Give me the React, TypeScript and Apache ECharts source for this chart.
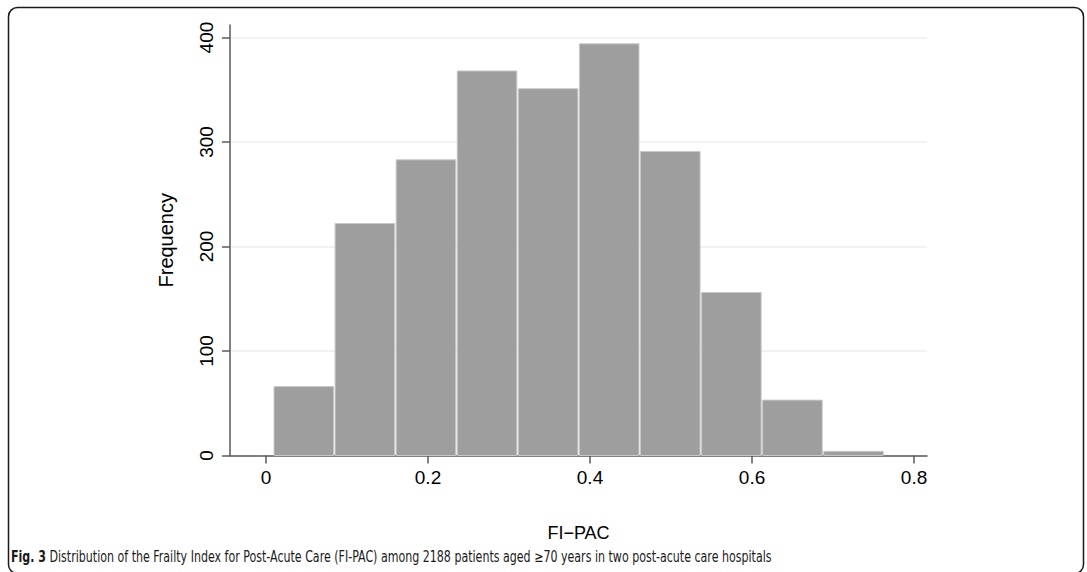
import React, { useEffect, useRef } from "react";
import * as echarts from "echarts";

// Histogram of FI-PAC scores: bin edges and counts per bin
const binEdges = [0.009, 0.0844, 0.1598, 0.2352, 0.3106, 0.386, 0.4614, 0.5368, 0.6122, 0.6876, 0.763];
const frequencies = [66, 222, 283, 368, 351, 394, 291, 156, 53, 4];
const xTicks = [0, 0.2, 0.4, 0.6, 0.8];
const yTicks = [0, 100, 200, 300, 400];
const xTitle = "FI\u2212PAC";
const yTitle = "Frequency";
const captionLead = "Fig. 3";
const captionBody =
  " Distribution of the Frailty Index for Post-Acute Care (FI-PAC) among 2188 patients aged \u226570 years in two post-acute care hospitals";

const W = 1087;
const H = 572;

export default function App() {
  const ref = useRef<HTMLDivElement>(null);

  useEffect(() => {
    if (!ref.current) return;
    const chart = echarts.init(ref.current, null, { renderer: "svg" });
    const bins = frequencies.map((f, i) => [binEdges[i], binEdges[i + 1], f]);
    const axisColor = "#5a5a5a";
    const font = "'Liberation Sans', Arial, Helvetica, sans-serif";
    const captionFont = "'DejaVu Sans Condensed', 'Liberation Sans Narrow', sans-serif";

    chart.setOption({
      animation: false,
      backgroundColor: "#ffffff",
      grid: { left: 230, right: 160, top: 25, bottom: 116.5, containLabel: false },
      xAxis: {
        type: "value",
        min: -0.0444,
        max: 0.816,
        name: xTitle,
        nameLocation: "middle",
        nameGap: 68,
        nameTextStyle: { fontFamily: font, fontSize: 18, color: "#000" },
        axisLine: { show: true, onZero: false, lineStyle: { color: axisColor, width: 1.5 } },
        axisTick: {
          show: true,
          inside: false,
          length: 8,
          customValues: xTicks,
          lineStyle: { color: axisColor, width: 1.5 },
        },
        axisLabel: {
          customValues: xTicks,
          margin: 12,
          fontFamily: font,
          fontSize: 19,
          color: "#000",
          formatter: (v: number) => String(+v.toFixed(1)),
        },
        splitLine: { show: false },
      },
      yAxis: {
        type: "value",
        min: 0,
        max: 412,
        name: yTitle,
        nameLocation: "middle",
        nameGap: 54,
        nameRotate: 90,
        nameTextStyle: { fontFamily: font, fontSize: 20, color: "#000" },
        axisLine: { show: true, onZero: false, lineStyle: { color: axisColor, width: 1.5 } },
        axisTick: {
          show: true,
          inside: false,
          length: 8,
          customValues: yTicks,
          lineStyle: { color: axisColor, width: 1.5 },
        },
        axisLabel: {
          customValues: yTicks,
          rotate: 90,
          margin: 14,
          fontFamily: font,
          fontSize: 19,
          color: "#000",
        },
        splitLine: { show: true, lineStyle: { color: "#eeeeee", width: 1.5 } },
      },
      series: [
        {
          type: "custom",
          data: bins,
          encode: { x: [0, 1], y: 2 },
          renderItem: (params: any, api: any) => {
            const p0 = api.coord([api.value(0), 0]);
            const p1 = api.coord([api.value(1), api.value(2)]);
            return {
              type: "rect",
              shape: {
                x: p0[0] + 0.75,
                y: p1[1],
                width: p1[0] - p0[0] - 1.5,
                height: p0[1] - p1[1],
              },
              style: { fill: "#9e9e9e", stroke: "#c8c8c8", lineWidth: 1 },
            };
          },
        },
      ],
      graphic: [
        {
          type: "rect",
          shape: { x: 8.5, y: 7.5, width: 1075, height: 566, r: 9 },
          style: { fill: "none", stroke: "#1a1a1a", lineWidth: 1.5 },
          silent: true,
        },
        {
          type: "text",
          x: 11,
          y: 557,
          scaleX: 0.82,
          style: {
            text: `{b|${captionLead}}${captionBody}`,
            fontFamily: captionFont,
            fontSize: 15,
            fill: "#1a1a1a",
            verticalAlign: "middle",
            rich: {
              b: {
                fontFamily: captionFont,
                fontWeight: "bold",
                fontSize: 15,
                fill: "#1a1a1a",
              },
            },
          },
        },
      ],
    });

    return () => chart.dispose();
  }, []);

  return (
    <div
      ref={ref}
      style={{ position: "fixed", left: 0, top: 0, width: W, height: H, background: "#fff" }}
    />
  );
}
